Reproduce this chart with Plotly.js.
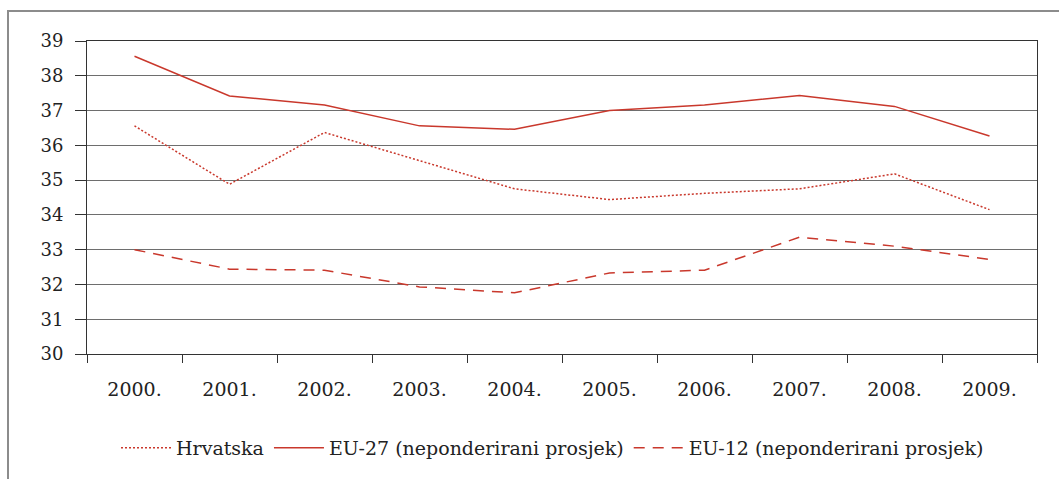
<!DOCTYPE html>
<html>
<head>
<meta charset="utf-8">
<script src="https://cdn.plot.ly/plotly-3.0.1.min.js"></script>
<style>
  html, body { margin: 0; padding: 0; background: #fff; }
  #wrap { position: relative; width: 1059px; height: 479px; overflow: hidden; }
  #frame { position: absolute; left: 7px; top: 10px; width: 1100px; height: 500px;
           border-top: 2px solid #8c8c8c; border-left: 2px solid #8c8c8c; }
  #chart { position: absolute; left: 0; top: 0; width: 1059px; height: 479px; }
</style>
</head>
<body>
<div id="wrap">
  <div id="frame"></div>
  <div id="chart"></div>
</div>
<script>
const years = ["2000.", "2001.", "2002.", "2003.", "2004.", "2005.", "2006.", "2007.", "2008.", "2009."];
const hrvatska = [36.56, 34.88, 36.37, 35.55, 34.75, 34.44, 34.62, 34.75, 35.18, 34.15];
const eu27 = [38.56, 37.42, 37.16, 36.56, 36.46, 37.0, 37.16, 37.43, 37.12, 36.27];
const eu12 = [33.0, 32.44, 32.41, 31.93, 31.76, 32.33, 32.41, 33.36, 33.1, 32.72];
const seriesNames = ["Hrvatska", "EU-27 (neponderirani prosjek)", "EU-12 (neponderirani prosjek)"];

const red = "#c9382c";
const font = "DejaVu Serif, Georgia, serif";

const traces = [
  { x: years, y: hrvatska, name: seriesNames[0], type: "scatter", mode: "lines",
    line: { color: red, width: 1.5, dash: "2px,2px" } },
  { x: years, y: eu27, name: seriesNames[1], type: "scatter", mode: "lines",
    line: { color: red, width: 1.5 } },
  { x: years, y: eu12, name: seriesNames[2], type: "scatter", mode: "lines",
    line: { color: red, width: 1.5, dash: "11px,8px" } }
];

const layout = {
  width: 1059, height: 479,
  margin: { l: 86.5, r: 22, t: 41, b: 125 },
  paper_bgcolor: "rgba(0,0,0,0)",
  plot_bgcolor: "rgba(0,0,0,0)",
  showlegend: true,
  font: { family: font, color: "#222", size: 17 },
  xaxis: {
    type: "category",
    range: [-0.5, years.length - 0.5],
    tickson: "boundaries",
    ticks: "outside", ticklen: 8, tickcolor: "#333", tickwidth: 1,
    showline: true, linecolor: "#333", linewidth: 1, mirror: true,
    showgrid: false, zeroline: false,
    tickfont: { family: font, size: 19, color: "#222" },
    ticklabelstandoff: 18,
    fixedrange: true
  },
  yaxis: {
    range: [30, 39], dtick: 1, tick0: 30,
    ticks: "outside", ticklen: 11, tickcolor: "#333", tickwidth: 1,
    showline: true, linecolor: "#333", linewidth: 1, mirror: true,
    showgrid: true, gridcolor: "#6e6e6e", gridwidth: 1,
    zeroline: false,
    tickfont: { family: font, size: 18, color: "#222" },
    ticklabelstandoff: 8,
    fixedrange: true
  },
  legend: {
    orientation: "h", x: 0.49, xanchor: "center", y: -0.3, yanchor: "middle",
    font: { family: font, size: 19, color: "#222" },
    itemwidth: 50, bgcolor: "rgba(0,0,0,0)"
  }
};

Plotly.newPlot("chart", traces, layout, { displayModeBar: false, staticPlot: true });
</script>
</body>
</html>
